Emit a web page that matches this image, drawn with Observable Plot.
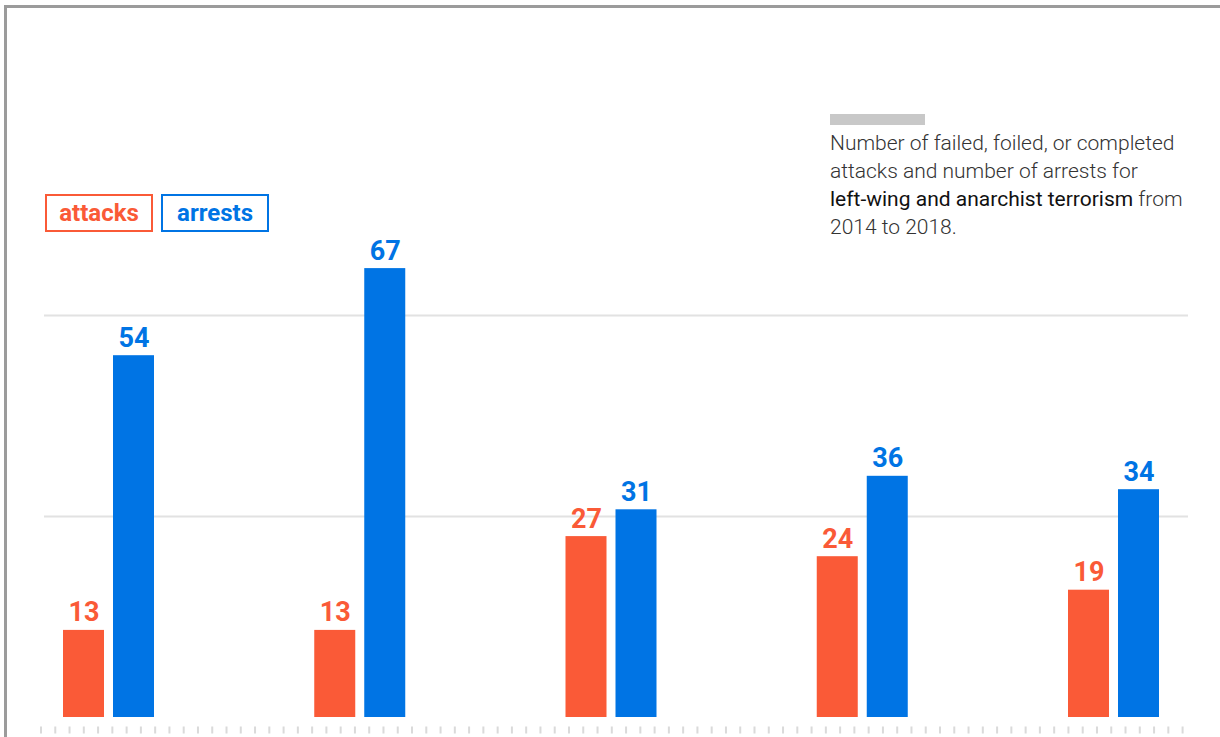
<!DOCTYPE html>
<html>
<head>
<meta charset="utf-8">
<script src="https://cdn.jsdelivr.net/npm/d3@7"></script>
<script src="https://cdn.jsdelivr.net/npm/@observablehq/plot@0.6"></script>
<style>
  html, body { margin: 0; padding: 0; background: #fff; }
  body { font-family: Roboto, "Noto Sans", sans-serif; }
  #wrap { position: relative; width: 1220px; height: 737px; overflow: hidden; background: #fff; }
  #chart { position: absolute; left: 0; top: 0; }
  #frame { position: absolute; left: 4px; top: 5px; width: 1240px; height: 760px;
           border-top: 3px solid #9b9b9b; border-left: 3px solid #9b9b9b; box-sizing: border-box; }
  .legend-box { position: absolute; top: 194px; height: 38px; width: 108px; box-sizing: border-box;
                border: 2px solid; font-weight: 700; font-size: 24px; line-height: 34px; text-align: center; }
  #note-bar { position: absolute; left: 830px; top: 114px; width: 95px; height: 11px; background: #c8c8c8; }
  #note { position: absolute; left: 830px; top: 129px; width: 390px; font-size: 21px; line-height: 28px;
          font-weight: 300; color: #333; }
  #note b { font-weight: 400; color: #111; }
</style>
</head>
<body>
<div id="wrap">
  <div id="chart"></div>
  <div id="frame"></div>
  <div id="legend"></div>
  <div id="note-bar"></div>
  <div id="note">Number of failed, foiled, or completed<br>attacks and number of arrests for<br><b>left-wing and anarchist terrorism</b> from<br>2014 to 2018.</div>
</div>
<script>
// ---- data ----
const years = ["2014", "2015", "2016", "2017", "2018"];
const seriesNames = ["attacks", "arrests"];
const attacks = [13, 13, 27, 24, 19];
const arrests = [54, 67, 31, 36, 34];
const gridValues = [30, 60];

// ---- styles ----
const colors = ["#fa5a37", "#0074e4"];

const attackRows = years.map((year, i) => ({year, value: attacks[i]}));
const arrestRows = years.map((year, i) => ({year, value: arrests[i]}));

const labelStyle = {dy: -9, lineAnchor: "bottom", fontSize: 27, fontWeight: "bold"};

const chart = Plot.plot({
  width: 1220,
  height: 737,
  marginLeft: 63,
  marginRight: 61,
  marginTop: 248,
  marginBottom: 20,
  style: {fontFamily: "Roboto, sans-serif", background: "transparent"},
  x: {domain: years, paddingInner: 1 - 91 / 251.25, paddingOuter: 0, round: false, axis: null},
  y: {domain: [0, 70], axis: null},
  marks: [
    Plot.ruleY(gridValues, {y: d => d, stroke: "#e2e2e2", strokeWidth: 2, insetLeft: -19, insetRight: -29}),
    Plot.ruleY([0], {stroke: "#dadada", strokeWidth: 7, strokeDasharray: "2,12.27", dy: 12.5, insetLeft: -23, insetRight: -27}),
    Plot.barY(attackRows, {x: "year", y: "value", fill: colors[0], insetRight: 50}),
    Plot.barY(arrestRows, {x: "year", y: "value", fill: colors[1], insetLeft: 50}),
    Plot.text(attackRows, {x: "year", y: "value", text: d => String(d.value), fill: colors[0], dx: -25, ...labelStyle}),
    Plot.text(arrestRows, {x: "year", y: "value", text: d => String(d.value), fill: colors[1], dx: 25, ...labelStyle})
  ]
});
document.getElementById("chart").appendChild(chart);

// legend (HTML boxes)
const legend = document.getElementById("legend");
const legendLeft = [45, 161];
seriesNames.forEach((name, i) => {
  const box = document.createElement("div");
  box.className = "legend-box";
  box.style.left = legendLeft[i] + "px";
  box.style.borderColor = colors[i];
  box.style.color = colors[i];
  box.textContent = name;
  legend.appendChild(box);
});
</script>
</body>
</html>
